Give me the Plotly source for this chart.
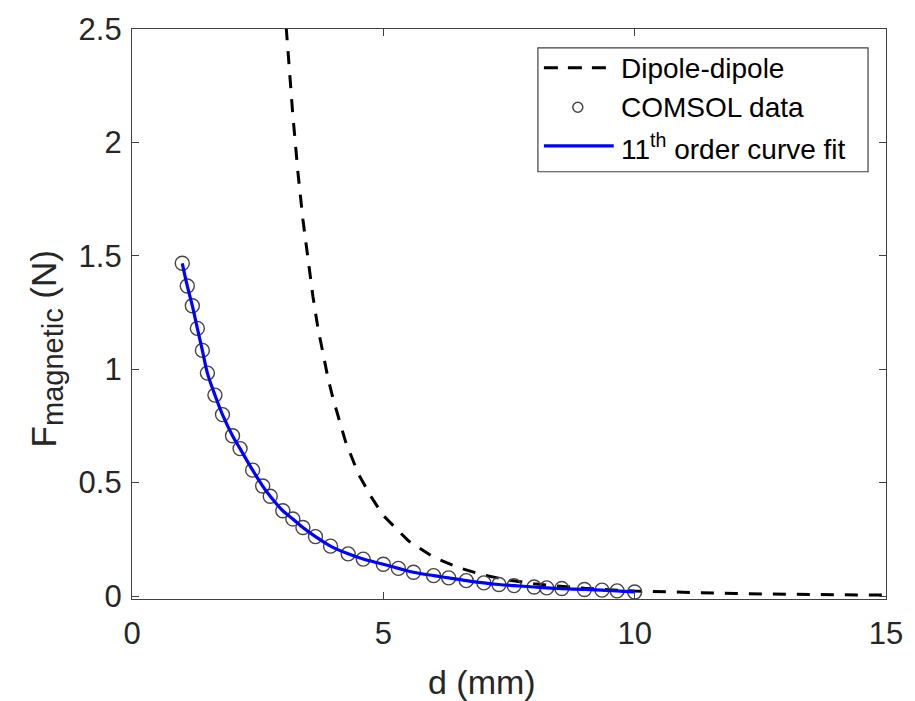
import plotly.graph_objects as go

# ---- data ----
comsol_d = [1.0, 1.1, 1.2, 1.3, 1.4, 1.5, 1.65, 1.8, 2.0, 2.15, 2.4, 2.6, 2.75, 3.0,
            3.2, 3.4, 3.65, 3.95, 4.3, 4.6, 5.0, 5.3, 5.6, 6.0, 6.3, 6.65, 7.0, 7.3,
            7.6, 8.0, 8.25, 8.55, 9.0, 9.35, 9.65, 10.0]
comsol_f = [1.467, 1.367, 1.28, 1.18, 1.083, 0.983, 0.886, 0.80, 0.707, 0.65, 0.555,
            0.485, 0.44, 0.376, 0.34, 0.302, 0.262, 0.22, 0.186, 0.163, 0.14, 0.122,
            0.105, 0.09, 0.08, 0.068, 0.058, 0.051, 0.046, 0.04, 0.036, 0.033, 0.029,
            0.026, 0.023, 0.018]

fit_d = comsol_d
fit_f = comsol_f

dipole_d = [2.95, 3.07, 3.2, 3.3, 3.4, 3.5, 3.6, 3.7, 3.8, 3.9, 4.0, 4.25, 4.5, 4.75,
            5.0, 5.5, 6.0, 6.5, 7.0, 7.5, 8.0, 8.5, 9.0, 10.0, 11.0, 12.0, 13.0, 14.0, 15.0]
dipole_f = [2.93, 2.5, 2.12, 1.87, 1.66, 1.48, 1.32, 1.18, 1.07, 0.96, 0.87, 0.68, 0.54,
            0.44, 0.355, 0.243, 0.171, 0.125, 0.092, 0.07, 0.054, 0.043, 0.034, 0.022,
            0.015, 0.011, 0.008, 0.006, 0.004]

x_ticks = [0, 5, 10, 15]
y_ticks = [0, 0.5, 1, 1.5, 2, 2.5]
y_tick_labels = ["0", "0.5", "1", "1.5", "2", "2.5"]

legend_labels = ["Dipole-dipole", "COMSOL data", "11<sup>th</sup> order curve fit"]

# ---- layout geometry ----
W, H = 915, 701
L, R, T, B = 132, 888, 24, 599
FONT = "Liberation Sans, Arial, sans-serif"
AX = "#404040"
TXT = "#262626"


def px(x):
    return (x - L) / (R - L)


def py(y):
    return (B - y) / (B - T)


fig = go.Figure()
fig.add_trace(go.Scatter(x=dipole_d, y=dipole_f, mode="lines",
                         line=dict(color="black", width=3, dash="13px,11px"),
                         showlegend=False))
fig.add_trace(go.Scatter(x=comsol_d, y=comsol_f, mode="markers",
                         marker=dict(symbol="circle-open", size=14,
                                     line=dict(color="#444444", width=1.4),
                                     color="#444444"),
                         showlegend=False))
fig.add_trace(go.Scatter(x=fit_d, y=fit_f, mode="lines", line_shape="spline",
                         line=dict(color="#0000ff", width=3.2),
                         showlegend=False))

axis_common = dict(showgrid=False, zeroline=False, showline=True, linecolor=AX,
                   linewidth=1.2, mirror="ticks", ticks="inside", ticklen=7,
                   tickcolor=AX, tickwidth=1.2,
                   tickfont=dict(family=FONT, size=31, color=TXT))

fig.update_xaxes(range=[0, 15], tickvals=x_ticks, ticktext=[str(v) for v in x_ticks],
                 ticklabelstandoff=7, **axis_common)
fig.update_yaxes(range=[-0.013, 2.5], tickvals=y_ticks, ticktext=y_tick_labels,
                 ticklabelstandoff=3, **axis_common)

shapes = []
annotations = []
# legend box
shapes.append(dict(type="rect", xref="paper", yref="paper",
                   x0=px(539), x1=px(870), y0=py(168), y1=py(43),
                   line=dict(color=AX, width=1.2), fillcolor="white", layer="above"))
sym_rows = [63, 103, 142]
txt_rows = [64, 103, 143]
shapes.append(dict(type="line", xref="paper", yref="paper", x0=px(545), x1=px(615),
                   y0=py(sym_rows[0]), y1=py(sym_rows[0]),
                   line=dict(color="black", width=3, dash="14px,10px"), layer="above"))
shapes.append(dict(type="circle", xref="paper", yref="paper",
                   x0=px(579 - 5), x1=px(579 + 5), y0=py(sym_rows[1] + 5),
                   y1=py(sym_rows[1] - 5),
                   line=dict(color="#444444", width=1.5), layer="above"))
shapes.append(dict(type="line", xref="paper", yref="paper", x0=px(545), x1=px(615),
                   y0=py(sym_rows[2]), y1=py(sym_rows[2]),
                   line=dict(color="#0000ff", width=3.2), layer="above"))
for lab, ry in zip(legend_labels, txt_rows):
    annotations.append(dict(text=lab, xref="paper", yref="paper", x=px(620), y=py(ry),
                            xanchor="left", yanchor="middle", showarrow=False,
                            font=dict(family=FONT, size=28, color="black")))

# axis titles
annotations.append(dict(text="d (mm)", xref="paper", yref="paper", x=px(483), y=py(683),
                        xanchor="center", yanchor="middle", showarrow=False,
                        font=dict(family=FONT, size=34, color=TXT)))
annotations.append(dict(text="F<sub><span style='font-size:29px'>magnetic</span></sub> (N)",
                        xref="paper", yref="paper",
                        x=px(46), y=py(347), xanchor="center", yanchor="middle",
                        textangle=-90, showarrow=False,
                        font=dict(family=FONT, size=35, color=TXT)))

fig.update_layout(width=W, height=H, margin=dict(l=L, r=W - R, t=T, b=H - B),
                  paper_bgcolor="white", plot_bgcolor="white",
                  shapes=shapes, annotations=annotations, showlegend=False)

fig.write_html("out.html")
